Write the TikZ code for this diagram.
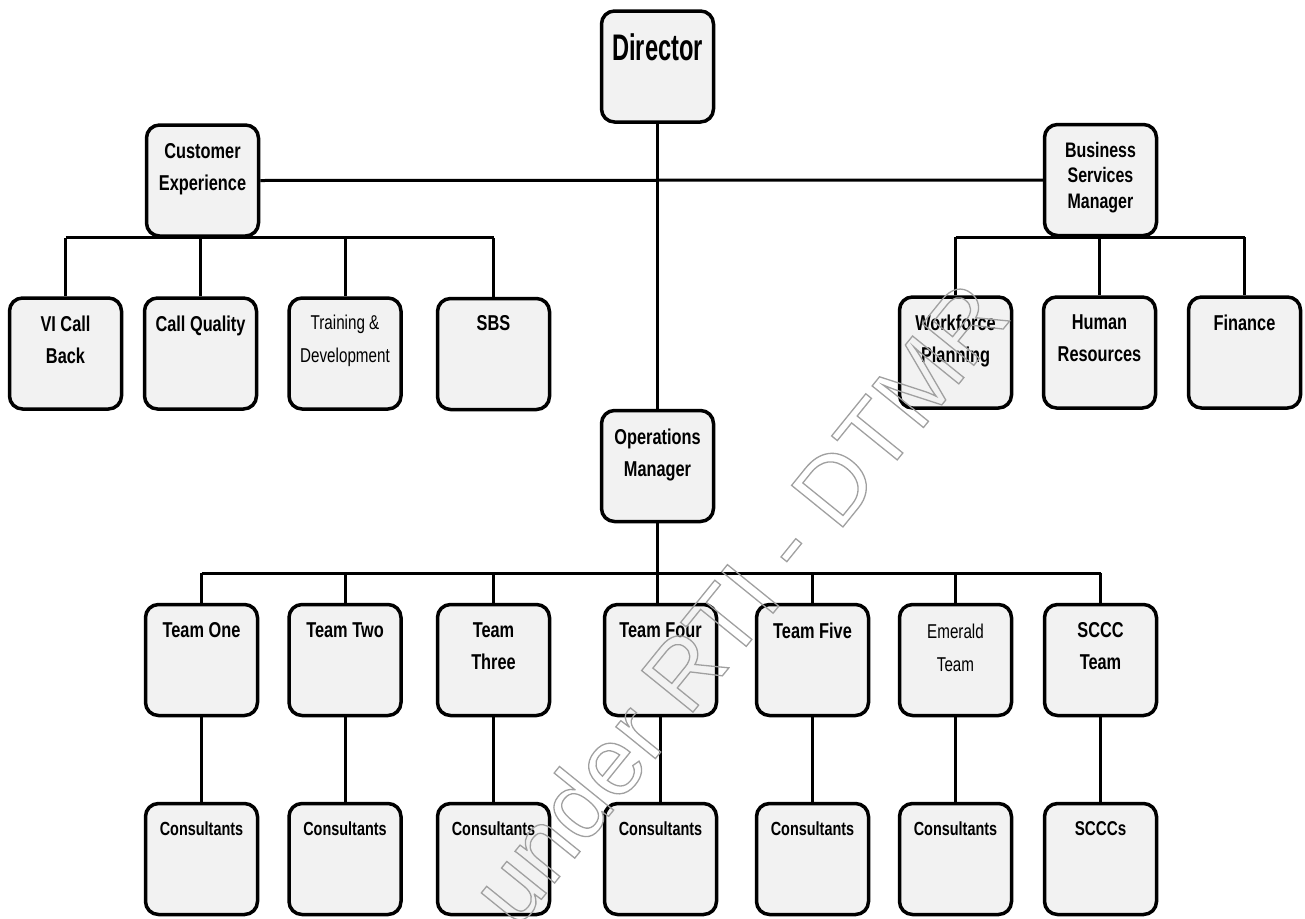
\documentclass[tikz,border=0pt]{standalone}
\usepackage{fontspec}
\setmainfont{Liberation Sans}[FakeStretch=0.76]
\newfontfamily\wmfont{Liberation Sans}
\newfontfamily\dirfont{Liberation Sans}[FakeStretch=0.64]
\definecolor{boxfill}{RGB}{242,242,242}
\definecolor{wmgray}{RGB}{160,160,160}
\usetikzlibrary{positioning}
\newcommand{\outlinetext}[1]{\special{pdf:code 1 Tr 1.3 w}#1\special{pdf:code 0 Tr}}

\begin{document}
\begin{tikzpicture}[x=1pt, y=-1pt,
  unit/.style={draw, line width=3.5pt, rounded corners=13pt, fill=boxfill, minimum width=112pt, minimum height=111pt, inner sep=0pt},
  lbl/.style={font=\bfseries\fontsize{21.5}{32}\selectfont, align=center, inner sep=0pt},
  plainlbl/.style={font=\fontsize{20}{33}\selectfont, align=center, inner sep=0pt},
  conslbl/.style={font=\bfseries\fontsize{19}{30}\selectfont, inner sep=0pt},
  link/.style={line width=3pt}]
  \useasboundingbox (0,0) rectangle (1305,918);

  % Director
  \node[unit] (dir) at (657.5,66.5) {};
  \node[font=\dirfont\bfseries\fontsize{37}{40}\selectfont, inner sep=0pt, below=24pt of dir.north] (dirt) {Director};

  % Customer Experience and Business Services
  \node[unit] (cust) at (202.5,180.5) {};
  \node[lbl, below=20pt of cust.north] (custt) {Customer\\Experience};
  \node[unit] (bsm) at (1100.5,180) {};
  \node[lbl, font=\bfseries\fontsize{21}{25.5}\selectfont, below=19pt of bsm.north] (bsmt) {Business\\Services\\Manager};

  % Customer Experience units
  \node[unit] (vi) at (65.5,353.5) {};
  \node[lbl, below=19pt of vi.north] (vit) {VI Call\\Back};
  \node[unit] (cq) at (200.5,353.5) {};
  \node[lbl, below=19pt of cq.north] (cqt) {Call Quality};
  \node[unit] (td) at (345,353.5) {};
  \node[plainlbl, below=19pt of td.north] (tdt) {Training \&\\Development};
  \node[unit] (sbs) at (493.5,354) {};
  \node[lbl, below=19pt of sbs.north] (sbst) {SBS};

  % Business Services units
  \node[unit] (wfp) at (955.5,352.5) {};
  \node[lbl, below=19pt of wfp.north] (wfpt) {Workforce\\Planning};
  \node[unit] (hr) at (1099.5,352.5) {};
  \node[lbl, below=19pt of hr.north] (hrt) {Human\\Resources};
  \node[unit] (fin) at (1244.5,352.5) {};
  \node[lbl, below=19pt of fin.north] (fint) {Finance};

  % Operations Manager
  \node[unit] (ops) at (657.5,466) {};
  \node[lbl, below=20pt of ops.north] (opst) {Operations\\Manager};

  % Teams
  \node[unit] (t1) at (201.5,660) {};
  \node[lbl, below=20pt of t1.north] (t1t) {Team One};
  \node[unit] (t2) at (345,660) {};
  \node[lbl, below=20pt of t2.north] (t2t) {Team Two};
  \node[unit] (t3) at (493.5,660) {};
  \node[lbl, below=20pt of t3.north] (t3t) {Team\\Three};
  \node[unit] (t4) at (660.5,660) {};
  \node[lbl, below=20pt of t4.north] (t4t) {Team Four};
  \node[unit] (t5) at (812.5,660) {};
  \node[lbl, below=20pt of t5.north] (t5t) {Team Five};
  \node[unit] (t6) at (955.5,660) {};
  \node[plainlbl, below=21pt of t6.north] (t6t) {Emerald\\Team};
  \node[unit] (t7) at (1100.5,660) {};
  \node[lbl, below=20pt of t7.north] (t7t) {SCCC\\Team};

  % Consultants
  \node[unit] (c1) at (201.5,859) {};
  \node[conslbl, below=20pt of c1.north] (c1t) {Consultants};
  \node[unit] (c2) at (345,859) {};
  \node[conslbl, below=20pt of c2.north] (c2t) {Consultants};
  \node[unit] (c3) at (493.5,859) {};
  \node[conslbl, below=20pt of c3.north] (c3t) {Consultants};
  \node[unit] (c4) at (660.5,859) {};
  \node[conslbl, below=20pt of c4.north] (c4t) {Consultants};
  \node[unit] (c5) at (812.5,859) {};
  \node[conslbl, below=20pt of c5.north] (c5t) {Consultants};
  \node[unit] (c6) at (955.5,859) {};
  \node[conslbl, below=20pt of c6.north] (c6t) {Consultants};
  \node[unit] (c7) at (1100.5,859) {};
  \node[conslbl, font=\bfseries\fontsize{20}{30}\selectfont, below=20pt of c7.north] (c7t) {SCCCs};

  % Lines
  \coordinate (bus) at (0,573);
  \draw[link] (dir.south) -- (ops.north);
  \draw[link] (cust.east) -- (bsm.west);
  \draw[link] (vi.north |- cust.south) -- (sbs.north |- cust.south);
  \foreach \b in {vi,cq,td,sbs} \draw[link] (\b.north |- cust.south) -- (\b.north);
  \draw[link] (wfp.north |- bsm.south) -- (fin.north |- bsm.south);
  \foreach \b in {wfp,hr,fin} \draw[link] (\b.north |- bsm.south) -- (\b.north);
  \draw[link] (ops.south) -- (ops.south |- t4.north);
  \draw[link] (t1.north |- bus) -- (t7.north |- bus);
  \foreach \b in {t1,t2,t3,t5,t6,t7} \draw[link] (\b.north |- bus) -- (\b.north);
  \foreach \i in {1,...,7} \draw[link] (t\i.south) -- (c\i.north);

  % Watermark
  \node[text=wmgray, font=\wmfont\fontsize{96}{96}\selectfont, rotate=51, inner sep=0pt] (wm) at (738,602) {\outlinetext{under RTI - DTMR}};
\end{tikzpicture}
\end{document}
